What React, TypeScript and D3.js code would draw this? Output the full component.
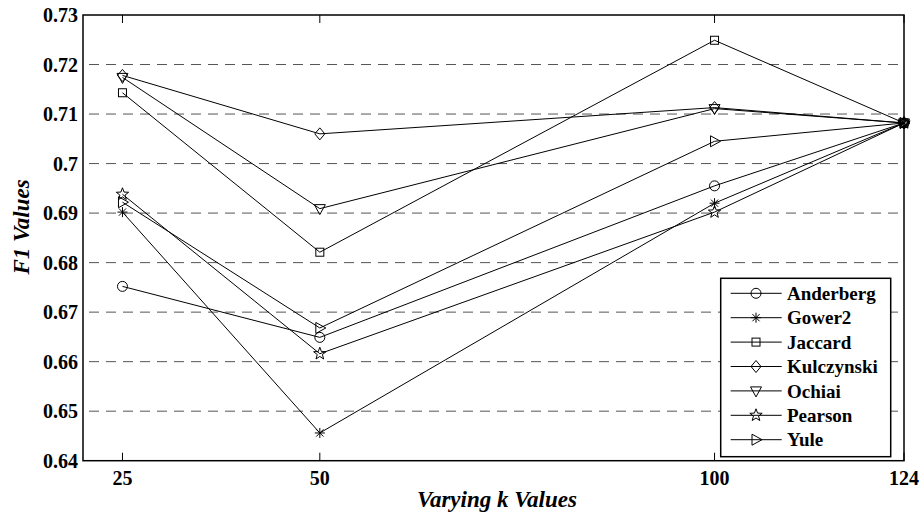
import React from "react";
import * as d3 from "d3";

const kValues = [25, 50, 100, 124];
const seriesNames = ["Anderberg", "Gower2", "Jaccard", "Kulczynski", "Ochiai", "Pearson", "Yule"];
const anderberg = [0.6752, 0.6649, 0.6955, 0.7082];
const gower2 = [0.6902, 0.6456, 0.692, 0.7082];
const jaccard = [0.7143, 0.6821, 0.7249, 0.7082];
const kulczynski = [0.7178, 0.706, 0.7113, 0.7082];
const ochiai = [0.7174, 0.6909, 0.7111, 0.7082];
const pearson = [0.6938, 0.6616, 0.6902, 0.7082];
const yule = [0.6922, 0.6668, 0.7045, 0.7082];
const yTicks = [0.64, 0.65, 0.66, 0.67, 0.68, 0.69, 0.7, 0.71, 0.72, 0.73];
const yTickLabels = ["0.64", "0.65", "0.66", "0.67", "0.68", "0.69", "0.7", "0.71", "0.72", "0.73"];
const xTickLabels = ["25", "50", "100", "124"];
const markers = ["circle", "asterisk", "square", "diamond", "triDown", "star", "triRight"];

const seriesValues = [anderberg, gower2, jaccard, kulczynski, ochiai, pearson, yule];

const W = 922, H = 520;
const L = 83, R = 904, T = 15, B = 460.7;
const FONT = "Liberation Serif";

function Marker({ type, x, y }: { type: string; x: number; y: number }) {
  const p = { fill: "none", stroke: "#000", strokeWidth: 1 };
  switch (type) {
    case "circle":
      return <circle cx={x} cy={y} r={5} {...p} />;
    case "square":
      return <rect x={x - 4} y={y - 4} width={8} height={8} {...p} />;
    case "diamond":
      return <path d={`M${x},${y - 6}L${x + 5},${y}L${x},${y + 6}L${x - 5},${y}Z`} {...p} />;
    case "triDown":
      return <path d={`M${x - 5.5},${y - 4}L${x + 5.5},${y - 4}L${x},${y + 6}Z`} {...p} />;
    case "triRight":
      return <path d={`M${x - 4},${y - 5.5}L${x + 6},${y}L${x - 4},${y + 5.5}Z`} {...p} />;
    case "asterisk": {
      const r = 5, d = 3.6;
      return (
        <path
          d={`M${x - r},${y}L${x + r},${y}M${x},${y - r}L${x},${y + r}M${x - d},${y - d}L${x + d},${y + d}M${x - d},${y + d}L${x + d},${y - d}`}
          {...p}
        />
      );
    }
    case "star": {
      const pts: string[] = [];
      for (let i = 0; i < 10; i++) {
        const rr = i % 2 === 0 ? 6.5 : 2.7;
        const a = -Math.PI / 2 + (i * Math.PI) / 5;
        pts.push(`${x + rr * Math.cos(a)},${y + rr * Math.sin(a)}`);
      }
      return <path d={`M${pts.join("L")}Z`} {...p} />;
    }
  }
  return null;
}

export default function App() {
  const x = d3.scaleLinear().domain([20, 124]).range([L, R]);
  const y = d3.scaleLinear().domain([0.64, 0.73]).range([B, T]);
  const line = d3
    .line<number>()
    .x((_, i) => x(kValues[i]))
    .y((v) => y(v));

  const legX = 720.7, legY = 278.3, legW = 170, legH = 178.4;
  const rowY0 = 293.3, rowStep = 24.4;
  const tf = { fontFamily: FONT, fontWeight: "bold" as const };

  return (
    <svg width={W} height={H} style={{ position: "absolute", left: 0, top: 0, background: "#fff" }}>
      <rect x={0} y={0} width={W} height={H} fill="#fff" />
      {yTicks.slice(1, -1).map((t) => (
        <line key={t} x1={L} x2={R} y1={y(t)} y2={y(t)} stroke="#555" strokeWidth={1} strokeDasharray="10,7" strokeDashoffset={-6} />
      ))}
      {kValues.map((k) => (
        <g key={k}>
          <line x1={x(k)} x2={x(k)} y1={B} y2={B - 8} stroke="#000" />
          <line x1={x(k)} x2={x(k)} y1={T} y2={T + 8} stroke="#000" />
        </g>
      ))}
      {seriesValues.map((vals, si) => (
        <g key={seriesNames[si]}>
          <path d={line(vals) || ""} fill="none" stroke="#000" strokeWidth={1} />
          {vals.map((v, i) => (
            <Marker key={i} type={markers[si]} x={x(kValues[i])} y={y(v)} />
          ))}
        </g>
      ))}
      <rect x={L} y={T} width={R - L} height={B - T} fill="none" stroke="#000" strokeWidth={1.5} />
      {yTicks.map((t, i) => (
        <text key={t} x={L - 5} y={y(t)} dy="0.35em" textAnchor="end" style={{ ...tf, fontSize: 20 }}>
          {yTickLabels[i]}
        </text>
      ))}
      {kValues.map((k, i) => (
        <text key={k} x={x(k)} y={485} textAnchor="middle" style={{ ...tf, fontSize: 20 }}>
          {xTickLabels[i]}
        </text>
      ))}
      <text x={497} y={507} textAnchor="middle" style={{ ...tf, fontStyle: "italic", fontSize: 23 }}>
        Varying k Values
      </text>
      <text transform={`translate(29,227) rotate(-90)`} textAnchor="middle" style={{ ...tf, fontStyle: "italic", fontSize: 23 }}>
        F1 Values
      </text>
      <rect x={legX} y={legY} width={legW} height={legH} fill="#fff" stroke="#000" strokeWidth={1.5} />
      {seriesNames.map((n, i) => {
        const ry = rowY0 + i * rowStep;
        return (
          <g key={n}>
            <line x1={730.7} x2={781.7} y1={ry} y2={ry} stroke="#000" strokeWidth={1} />
            <Marker type={markers[i]} x={756} y={ry} />
            <text x={787} y={ry} dy="0.35em" style={{ ...tf, fontSize: 19 }}>
              {n}
            </text>
          </g>
        );
      })}
    </svg>
  );
}
